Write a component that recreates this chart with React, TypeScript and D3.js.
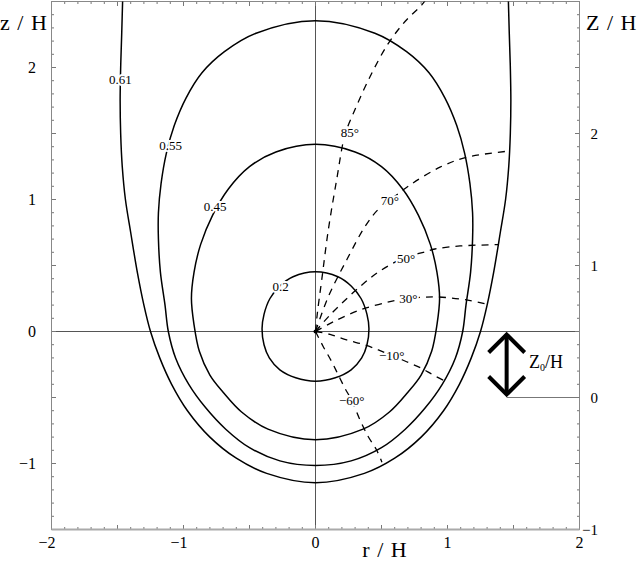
import React, { useEffect, useRef } from "react"
import * as d3 from "d3"

// contour levels and their left halves, [r/H, z/H], top to bottom (right half is the mirror)
const contourLevels = ["0.2", "0.45", "0.55", "0.61"]
const contour02 = [[0, 0.453], [-0.17, 0.415], [-0.27, 0.345], [-0.345, 0.25], [-0.39, 0.13], [-0.405, 0.02], [-0.39, -0.1], [-0.35, -0.2], [-0.27, -0.29], [-0.15, -0.35], [0, -0.376]]
const contour045 = [[0, 1.418], [-0.3, 1.36], [-0.5, 1.249], [-0.66, 1.08], [-0.78, 0.88], [-0.87, 0.66], [-0.92, 0.45], [-0.94, 0.25], [-0.92, 0.05], [-0.88, -0.15], [-0.8, -0.33], [-0.7, -0.46], [-0.56, -0.61], [-0.36, -0.74], [0, -0.82]]
const contour055 = [[0, 2.355], [-0.45, 2.26], [-0.69, 2.12], [-0.86, 1.96], [-0.98, 1.77], [-1.07, 1.56], [-1.13, 1.35], [-1.17, 1.12], [-1.19, 0.9], [-1.19, 0.7], [-1.175, 0.45], [-1.14, 0.2], [-1.115, 0], [-1.06, -0.2], [-0.96, -0.4], [-0.83, -0.58], [-0.68, -0.74], [-0.5, -0.88], [-0.27, -0.98], [0, -1.015]]
const contour061 = [[-1.46, 2.55], [-1.468, 2.26], [-1.476, 2.0], [-1.48, 1.75], [-1.476, 1.5], [-1.464, 1.25], [-1.44, 1.0], [-1.4, 0.75], [-1.35, 0.45], [-1.3, 0.2], [-1.25, 0], [-1.18, -0.2], [-1.09, -0.4], [-0.97, -0.6], [-0.8, -0.8], [-0.6, -0.96], [-0.37, -1.075], [0, -1.146]]
const contourLabelPos = [[-0.264, 0.345], [-0.761, 0.95], [-1.098, 1.413], [-1.478, 1.913]]

// dashed rays from the origin, labelled by their start angle
const rayAngles = ["85°", "70°", "50°", "30°", "−10°", "−60°"]
const ray85 = [[0, 0], [0.014, 0.138], [0.047, 0.39], [0.097, 0.769], [0.16, 1.148], [0.223, 1.489], [0.287, 1.653], [0.413, 1.93], [0.552, 2.183], [0.68, 2.35], [0.804, 2.473], [0.84, 2.52]]
const ray70 = [[0, 0], [0.097, 0.264], [0.236, 0.542], [0.375, 0.795], [0.47, 0.92], [0.57, 1.0], [0.716, 1.11], [0.943, 1.245], [1.145, 1.32], [1.448, 1.365]]
const ray50 = [[0, 0], [0.11, 0.125], [0.337, 0.34], [0.5, 0.466], [0.678, 0.56], [0.817, 0.6], [0.905, 0.625], [1.095, 0.648], [1.385, 0.658]]
const ray30 = [[0, 0], [0.135, 0.074], [0.337, 0.163], [0.564, 0.226], [0.703, 0.25], [0.804, 0.259], [0.918, 0.262], [1.145, 0.239], [1.297, 0.208]]
const rayM10 = [[0, 0], [0.11, -0.022], [0.236, -0.064], [0.375, -0.102], [0.476, -0.14], [0.577, -0.18], [0.69, -0.229], [0.804, -0.279], [0.893, -0.33], [1.0, -0.385]]
const rayM60 = [[0, 0], [0.059, -0.115], [0.123, -0.229], [0.173, -0.33], [0.223, -0.43], [0.274, -0.52], [0.337, -0.67], [0.4, -0.797], [0.463, -0.898], [0.503, -0.99]]
const rayLabelPos = [[0.261, 1.511], [0.564, 0.991], [0.686, 0.555], [0.703, 0.251], [0.577, -0.178], [0.274, -0.525]]

const rTickLabels = [-2, -1, 0, 1, 2]
const zTickLabels = [-1, 0, 1, 2]
const ZTickLabels = [-1, 0, 1, 2]
const arrowR = 1.448

function App() {
    const ref = useRef(null)

    useEffect(() => {
        const svg = d3.select(ref.current)
        svg.selectAll("*").remove()
        const width = 638
        const height = 562
        const font = "Liberation Serif, Times New Roman, DejaVu Serif, serif"
        svg.attr("width", width).attr("height", height)

        const x = d3.scaleLinear().domain([-2, 2]).range([51.5, 579.5])
        const y = d3.scaleLinear().domain([-1.5, 2.5]).range([529.5, 1.5])
        const yR = d3.scaleLinear().domain([-1, 3]).range([529.5, 1.5])
        const [x0, x1] = x.range()
        const [y0, y1] = y.range()

        svg.append("defs").append("clipPath").attr("id", "plotclip")
            .append("rect")
            .attr("x", x0).attr("y", y1)
            .attr("width", x1 - x0).attr("height", y0 - y1)

        // zero lines
        svg.append("line").attr("x1", x0).attr("x2", x1).attr("y1", y(0)).attr("y2", y(0))
            .attr("stroke", "#555").attr("stroke-width", 1)
        svg.append("line").attr("x1", x(0)).attr("x2", x(0)).attr("y1", y1).attr("y2", y0)
            .attr("stroke", "#555").attr("stroke-width", 1)

        // ticks, every 0.1, longer every 0.5
        const isMajor = v => Math.abs(v * 2 - Math.round(v * 2)) < 1e-6
        const rVals = d3.range(-20, 21).map(i => i / 10)
        const zVals = d3.range(-15, 26).map(i => i / 10)
        const ticks = svg.append("g").attr("stroke", "#777").attr("stroke-width", 1)
        rVals.forEach(v => {
            const len = isMajor(v) ? 4.5 : 2.5
            ticks.append("line").attr("x1", x(v)).attr("x2", x(v)).attr("y1", y0).attr("y2", y0 - len)
            ticks.append("line").attr("x1", x(v)).attr("x2", x(v)).attr("y1", y1).attr("y2", y1 + len)
        })
        zVals.forEach(v => {
            const len = isMajor(v) ? 4.5 : 2.5
            ticks.append("line").attr("x1", x0).attr("x2", x0 + len).attr("y1", y(v)).attr("y2", y(v))
            ticks.append("line").attr("x1", x1).attr("x2", x1 - len).attr("y1", y(v)).attr("y2", y(v))
        })

        // frame
        svg.append("rect")
            .attr("x", x0).attr("y", y1)
            .attr("width", x1 - x0).attr("height", y0 - y1)
            .attr("fill", "none").attr("stroke", "#888").attr("stroke-width", 1)
        svg.append("line").attr("x1", x0).attr("x2", x1).attr("y1", y0).attr("y2", y0)
            .attr("stroke", "#aaa").attr("stroke-width", 2)

        const fmt = d3.format("d")
        svg.append("g").selectAll("text").data(zTickLabels).enter().append("text")
            .attr("x", 36).attr("y", d => y(d) + 5.5)
            .attr("text-anchor", "end").style("font-family", font).attr("font-size", 16)
            .text(d => fmt(d))
        svg.append("g").selectAll("text").data(ZTickLabels).enter().append("text")
            .attr("x", 598).attr("y", d => yR(d) + 5)
            .attr("text-anchor", "end").style("font-family", font).attr("font-size", 15)
            .text(d => fmt(d))
        svg.append("g").selectAll("text").data(rTickLabels).enter().append("text")
            .attr("x", d => x(d) + 4).attr("y", 548)
            .attr("text-anchor", "end").style("font-family", font).attr("font-size", 16)
            .text(d => fmt(d))

        // axis titles
        svg.append("text").attr("x", 0).attr("y", 29.5)
            .style("font-family", font).attr("font-size", 22).attr("letter-spacing", 1)
            .text("z / H")
        svg.append("text").attr("x", 586).attr("y", 29.5)
            .style("font-family", font).attr("font-size", 22).attr("letter-spacing", 1)
            .text("Z / H")
        svg.append("text").attr("x", 385).attr("y", 557)
            .attr("text-anchor", "middle")
            .style("font-family", font).attr("font-size", 22).attr("letter-spacing", 1)
            .text("r / H")

        const plot = svg.append("g").attr("clip-path", "url(#plotclip)")
        const line = d3.line().x(d => x(d[0])).y(d => y(d[1]))

        // dashed rays
        const rays = [ray85, ray70, ray50, ray30, rayM10, rayM60]
        plot.append("g").selectAll("path").data(rays).enter().append("path")
            .attr("d", d => line.curve(d3.curveCatmullRom.alpha(0.5))(d))
            .attr("fill", "none").attr("stroke", "#000")
            .attr("stroke-width", 1.3).attr("stroke-dasharray", "7,6")

        // contours
        const mirror = pts => pts.map(p => [-p[0], p[1]])
        const closed = [contour02, contour045, contour055].map(h => {
            const right = mirror(h).slice(1, -1).reverse()
            return h.concat(right)
        })
        plot.append("g").selectAll("path").data(closed).enter().append("path")
            .attr("d", d => line.curve(d3.curveCatmullRomClosed.alpha(0.5))(d))
            .attr("fill", "none").attr("stroke", "#000").attr("stroke-width", 1.5)
        const open = contour061.concat(mirror(contour061).slice(0, -1).reverse())
        plot.append("path")
            .attr("d", line.curve(d3.curveCatmullRom.alpha(0.5))(open))
            .attr("fill", "none").attr("stroke", "#000").attr("stroke-width", 1.5)

        // labels with white halo
        const addLabels = (texts, pos) => {
            svg.append("g").selectAll("text").data(texts).enter().append("text")
                .attr("x", (d, i) => x(pos[i][0]))
                .attr("y", (d, i) => y(pos[i][1]))
                .attr("dy", "0.35em")
                .attr("text-anchor", "middle")
                .style("font-family", font).attr("font-size", 13)
                .attr("stroke", "#fff").attr("stroke-width", 4).attr("paint-order", "stroke")
                .attr("fill", "#000")
                .text(d => d)
        }
        addLabels(contourLevels, contourLabelPos)
        addLabels(rayAngles, rayLabelPos)

        // origin dot
        svg.append("circle").attr("cx", x(0)).attr("cy", y(0)).attr("r", 2).attr("fill", "#000")

        // Z0/H double arrow
        const ax = x(arrowR)
        const top = y(0) + 3
        const bot = yR(0) - 3
        const arm = 18
        const arrow = svg.append("g").attr("fill", "none").attr("stroke", "#000")
            .attr("stroke-width", 4).attr("stroke-linejoin", "miter")
        arrow.append("line").attr("x1", ax).attr("x2", ax).attr("y1", top).attr("y2", bot)
        arrow.append("path").attr("d", `M${ax - arm},${top + arm}L${ax},${top}L${ax + arm},${top + arm}`)
        arrow.append("path").attr("d", `M${ax - arm},${bot - arm}L${ax},${bot}L${ax + arm},${bot - arm}`)
        svg.append("line").attr("x1", ax).attr("x2", x1).attr("y1", yR(0)).attr("y2", yR(0))
            .attr("stroke", "#777").attr("stroke-width", 1)
        const z0 = svg.append("text").attr("x", 529).attr("y", 368)
            .style("font-family", font).attr("font-size", 18)
        z0.append("tspan").text("Z")
        z0.append("tspan").attr("font-size", 10).attr("dy", 3).text("0")
        z0.append("tspan").attr("dy", -3).text("/H")
    }, [])

    return <svg ref={ref} style={{ position: "absolute", left: 0, top: 0 }} />
}

export default App
